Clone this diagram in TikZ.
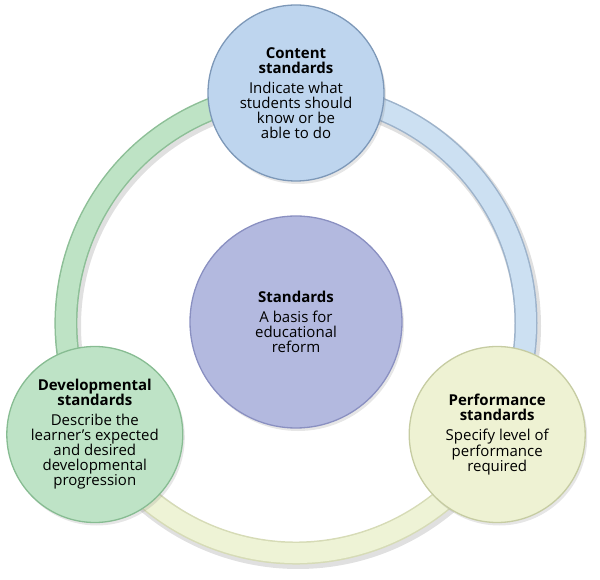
\documentclass[tikz,border=0pt]{standalone}
\usepackage{fontspec}
\setmainfont{Open Sans}
\usetikzlibrary{shadows}

\definecolor{contentfill}{HTML}{BED5EE}
\definecolor{contentline}{HTML}{7D98B8}
\definecolor{contentring}{HTML}{CCE0F2}
\definecolor{contentedge}{HTML}{9DB3CB}
\definecolor{perffill}{HTML}{EEF2D3}
\definecolor{perfline}{HTML}{C6CCA2}
\definecolor{perfring}{HTML}{EEF3D6}
\definecolor{perfedge}{HTML}{D6DBB6}
\definecolor{devfill}{HTML}{BEE3C6}
\definecolor{devline}{HTML}{87BC92}
\definecolor{devring}{HTML}{BEE3C5}
\definecolor{devedge}{HTML}{8DBF97}
\definecolor{stdfill}{HTML}{B3B9DF}
\definecolor{stdline}{HTML}{8A90C1}

\tikzset{
  stdcircle/.style={circle, line width=1.3pt, inner sep=0pt, minimum size=176pt,
    align=center, font=\fontsize{15}{15}\selectfont,
    drop shadow={shadow xshift=2pt, shadow yshift=-3pt, opacity=0.2}},
  ringedge/.style={line width=23pt},
  ringfill/.style={line width=20pt},
}

\begin{document}
\begin{tikzpicture}[x=1pt,y=1pt]
	\useasboundingbox (0,0) rectangle (600,579);
	
	%ring
	\coordinate (ring) at (296,256);
	\draw[line width=26pt, black, opacity=0.12] ([shift={(2,-3)}]ring) circle[radius=230];
	\coordinate (ctop) at (296,486);
	\coordinate (cright) at (497.2,144.5);
	\coordinate (cleft) at (94.8,144.5);
	\draw[ringedge, color=contentedge] (ctop) arc[start angle=90, end angle=-29, radius=230];
	\draw[ringfill, color=contentring] (ctop) arc[start angle=90, end angle=-29, radius=230];
	\draw[ringedge, color=perfedge] (cright) arc[start angle=-29, end angle=-151, radius=230];
	\draw[ringfill, color=perfring] (cright) arc[start angle=-29, end angle=-151, radius=230];
	\draw[ringedge, color=devedge] (cleft) arc[start angle=209, end angle=90, radius=230];
	\draw[ringfill, color=devring] (cleft) arc[start angle=209, end angle=90, radius=230];
	
	%circles
	\node[stdcircle, fill=stdfill, draw=stdline, minimum size=212pt] (standards) at (296,257)
		{\textbf{Standards}\\[5pt]A basis for\\educational\\reform};
	\node[stdcircle, fill=contentfill, draw=contentline] (content) at (ctop)
		{\textbf{Content}\\\textbf{standards}\\[5pt]Indicate what\\students should\\know or be\\able to do};
	\node[stdcircle, fill=perffill, draw=perfline] (performance) at (cright)
		{\textbf{Performance}\\\textbf{standards}\\[5pt]Specify level of\\performance\\required};
	\node[stdcircle, fill=devfill, draw=devline] (developmental) at (cleft)
		{\textbf{Developmental}\\\textbf{standards}\\[5pt]Describe the\\learner’s expected\\and desired\\developmental\\progression};
	
\end{tikzpicture}
\end{document}
